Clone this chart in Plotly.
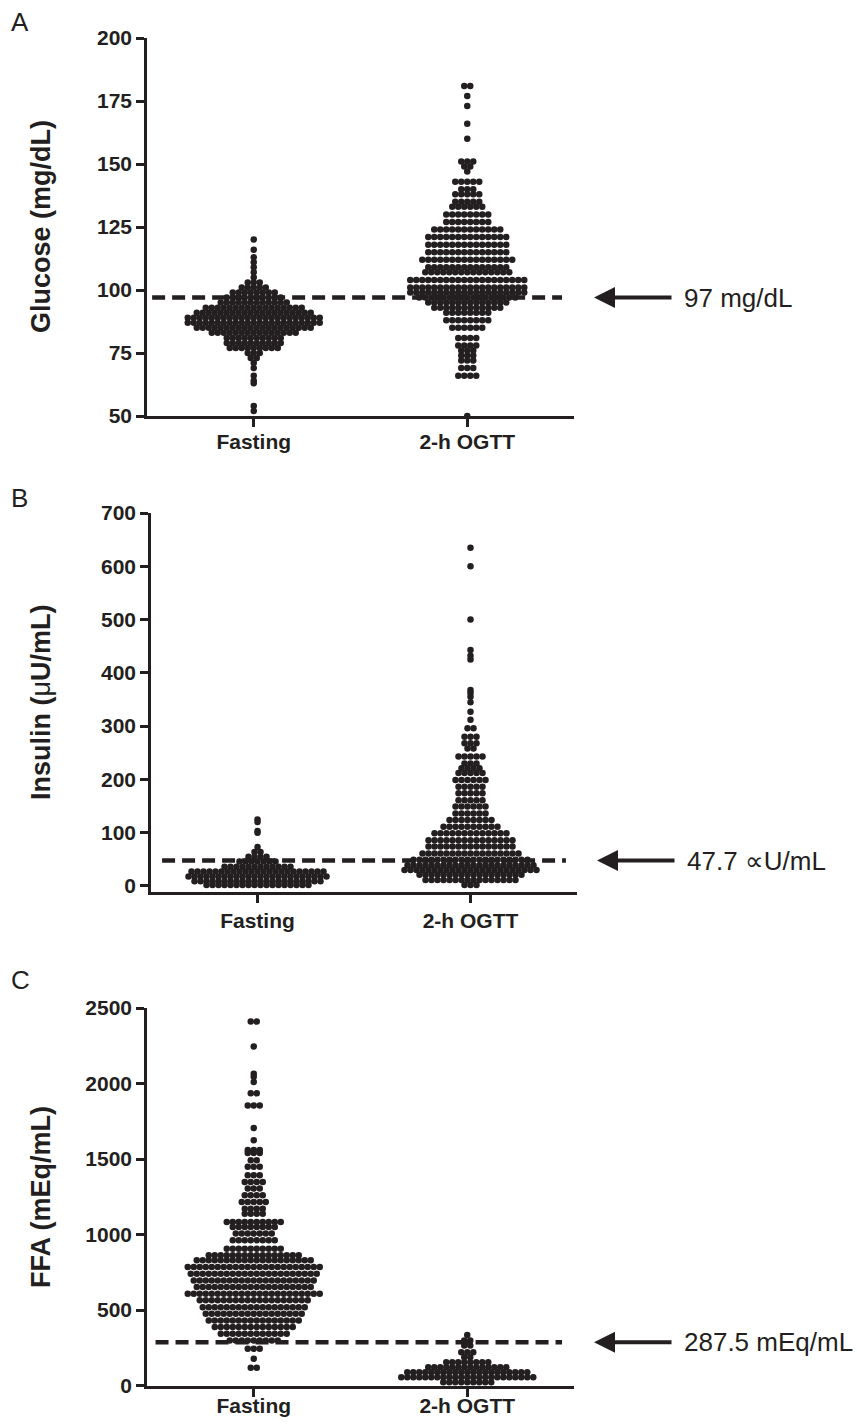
import plotly.graph_objects as go

W, H = 857, 1424
INK = "#231f20"
FONT = "Liberation Sans, Arial, Helvetica, sans-serif"

categories = ["Fasting", "2-h OGTT"]

# ---------------- Panel A : glucose (mg/dL) ----------------
glucose_ticks = [50, 75, 100, 125, 150, 175, 200]
glucose_threshold = 97
glucose_label = "97 mg/dL"
glucose_fasting_levels = [120, 116, 113, 111, 109, 107, 105, 103, 101, 99, 97, 95, 93, 91, 89, 87,
                          85, 83, 81, 79, 77, 75, 73, 71, 69, 66, 64, 63, 54, 52]
glucose_fasting_counts = [1, 1, 1, 1, 1, 1, 1, 3, 5, 8, 10, 12, 17, 20, 23, 23,
                          20, 15, 10, 10, 9, 3, 2, 1, 1, 1, 1, 1, 1, 1]
glucose_ogtt_levels = [181, 177, 173, 166, 160, 151, 149, 147, 143, 140, 138, 135, 133, 130, 127,
                       124, 121, 118, 115, 112, 109, 107, 104, 101, 99, 97, 95, 93, 91, 88, 85,
                       81, 78, 76, 74, 72, 69, 66, 50]
glucose_ogtt_counts = [2, 1, 1, 1, 1, 3, 2, 1, 5, 3, 5, 5, 6, 8, 8,
                       12, 14, 14, 14, 16, 14, 15, 20, 20, 20, 17, 14, 12, 8, 8, 6,
                       4, 4, 3, 3, 3, 3, 4, 1]

# ---------------- Panel B : insulin (uU/mL) ----------------
insulin_ticks = [0, 100, 200, 300, 400, 500, 600, 700]
insulin_threshold = 47.7
insulin_label = "47.7 \u221dU/mL"
insulin_fasting_levels = [125, 120, 103, 100, 73, 64, 55, 46, 36, 27, 18, 9, 2]
insulin_fasting_counts = [1, 1, 1, 1, 1, 2, 4, 7, 12, 23, 24, 22, 18]
insulin_ogtt_levels = [635, 600, 500, 443, 432, 425, 368, 362, 355, 345, 327, 312, 296, 280, 268,
                       258, 243, 230, 221, 212, 199, 186, 174, 161, 149, 136, 124, 111, 99, 86,
                       74, 61, 49, 39, 30, 21, 11, 2]
insulin_ogtt_counts = [1, 1, 1, 1, 1, 1, 1, 1, 1, 1, 1, 1, 2, 3, 3,
                       2, 5, 3, 4, 5, 6, 5, 5, 5, 6, 6, 8, 10, 13, 15,
                       15, 17, 20, 22, 23, 18, 16, 3]

# ---------------- Panel C : FFA (mEq/mL) ----------------
ffa_ticks = [0, 500, 1000, 1500, 2000, 2500]
ffa_threshold = 287.5
ffa_label = "287.5 mEq/mL"
ffa_fasting_levels = [2410, 2245, 2065, 2045, 2010, 1935, 1855, 1705, 1625, 1560, 1540, 1492, 1448,
                      1393, 1348, 1304, 1260, 1216, 1171, 1138, 1083, 1050, 1006, 962, 906, 862,
                      829, 785, 741, 696, 652, 608, 564, 519, 475, 431, 387, 343, 298, 243, 177, 118]
ffa_fasting_counts = [2, 1, 1, 1, 1, 2, 3, 1, 1, 3, 3, 2, 3,
                      3, 4, 3, 4, 5, 4, 4, 10, 8, 7, 8, 10, 16,
                      20, 23, 22, 21, 20, 23, 19, 18, 17, 16, 14, 12, 9, 3, 1, 2]
ffa_ogtt_levels = [335, 298, 265, 221, 188, 155, 121, 88, 55, 22]
ffa_ogtt_counts = [1, 2, 2, 3, 2, 8, 14, 21, 23, 9]

# ---------------- layout geometry (pixels in the page) ----------------
panels = [
    dict(letter="A", title="Glucose (mg/dL)", ticks=glucose_ticks, rng=[50, 200],
         x0=147, x1=574, ytop=38, ybot=416, title_y=227, letter_y=22, xlab_shift=-3,
         thr=glucose_threshold, label=glucose_label, dash=(0.012, 0.972),
         groups=[(glucose_fasting_levels, glucose_fasting_counts),
                 (glucose_ogtt_levels, glucose_ogtt_counts)]),
    dict(letter="B", title="Insulin (<span style='font-weight:normal'>\u03bc</span>U/mL)",
         ticks=insulin_ticks, rng=[-11.3, 700], xlab_shift=0,
         x0=151, x1=577, ytop=513, ybot=892, title_y=702, letter_y=498,
         thr=insulin_threshold, label=insulin_label, dash=(0.026, 0.974),
         groups=[(insulin_fasting_levels, insulin_fasting_counts),
                 (insulin_ogtt_levels, insulin_ogtt_counts)]),
    dict(letter="C", title="FFA (mEq/mL)", ticks=ffa_ticks, rng=[-3, 2500], xlab_shift=-9,
         x0=147, x1=574, ytop=1008, ybot=1386, title_y=1197, letter_y=980,
         thr=ffa_threshold, label=ffa_label, dash=(0.02, 0.972),
         groups=[(ffa_fasting_levels, ffa_fasting_counts),
                 (ffa_ogtt_levels, ffa_ogtt_counts)]),
]

DOT = 6.5       # marker diameter, px
SPACING = 6.0   # horizontal distance between dots in a row, px


def row_layout(levels, counts, center, px_per_x):
    xs, ys = [], []
    for v, n in zip(levels, counts):
        for i in range(n):
            xs.append(center + (i - (n - 1) / 2) * SPACING / px_per_x)
            ys.append(v)
    return xs, ys


fig = go.Figure()

for k, p in enumerate(panels):
    sfx = "" if k == 0 else str(k + 1)
    xa, ya = "x" + sfx, "y" + sfx
    px_per_x = (p["x1"] - p["x0"]) / 2.0
    for gi, (lv, ct) in enumerate(p["groups"]):
        xs, ys = row_layout(lv, ct, gi, px_per_x)
        fig.add_trace(go.Scatter(
            x=xs, y=ys, mode="markers", xaxis=xa, yaxis=ya,
            marker=dict(size=DOT, color=INK, line=dict(width=0)),
            showlegend=False, hoverinfo="y"))

    axis_common = dict(showline=True, linewidth=2.6, linecolor=INK, ticks="outside",
                       ticklen=8, tickwidth=2.6, tickcolor=INK, showgrid=False,
                       zeroline=False, automargin=False,
                       tickfont=dict(family=FONT, size=21, color=INK, weight="bold"))
    fig.update_layout(**{
        "xaxis" + sfx: dict(domain=[p["x0"] / W, p["x1"] / W], range=[-0.5, 1.5],
                            tickvals=[0, 1], ticktext=categories, anchor=ya,
                            ticklabelstandoff=p["xlab_shift"],
                            fixedrange=True, **axis_common),
        "yaxis" + sfx: dict(domain=[1 - p["ybot"] / H, 1 - p["ytop"] / H], range=p["rng"],
                            tickvals=p["ticks"], anchor=xa, fixedrange=True, **axis_common),
    })

    # threshold dashed line
    fig.add_shape(type="line", xref=xa + " domain", yref=ya,
                  x0=p["dash"][0], x1=p["dash"][1], y0=p["thr"], y1=p["thr"],
                  line=dict(color=INK, width=4.5, dash="13px,7px"), layer="above")

    # arrow pointing to threshold
    fig.add_annotation(x=(p["x1"] + 20) / W, y=p["thr"], xref="paper", yref=ya,
                       ax=79, ay=0, axref="pixel", ayref="pixel", text="",
                       showarrow=True, arrowhead=2, arrowwidth=4, arrowsize=1.05,
                       arrowcolor=INK)
    fig.add_annotation(x=(p["x1"] + 108) / W, y=p["thr"], xref="paper", yref=ya,
                       text=p["label"], showarrow=False, xanchor="left", yanchor="middle",
                       font=dict(family=FONT, size=26, color=INK))

    # axis title
    fig.add_annotation(x=41 / W, y=1 - p["title_y"] / H, xref="paper", yref="paper",
                       text=p["title"], textangle=-90, showarrow=False,
                       xanchor="center", yanchor="middle",
                       font=dict(family=FONT, size=27, color=INK, weight="bold"))
    # panel letter
    fig.add_annotation(x=9 / W, y=1 - p["letter_y"] / H, xref="paper", yref="paper",
                       text=p["letter"], showarrow=False, xanchor="left", yanchor="middle",
                       font=dict(family=FONT, size=26, color=INK))

fig.update_layout(width=W, height=H, margin=dict(l=0, r=0, t=0, b=0, autoexpand=False),
                  paper_bgcolor="white", plot_bgcolor="white", showlegend=False)

fig.write_html("out.html", config={"displayModeBar": False},
               post_script="document.body.style.margin='0px';"
                           "document.documentElement.style.overflow='hidden';")
